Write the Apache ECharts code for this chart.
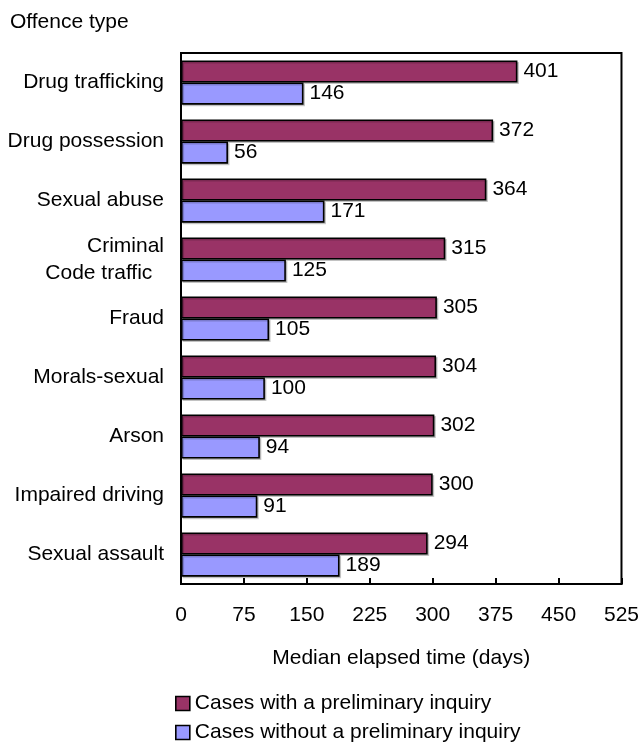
<!DOCTYPE html>
<html>
<head>
<meta charset="utf-8">
<script src="https://cdn.jsdelivr.net/npm/echarts@6/dist/echarts.min.js"></script>
<style>
html,body{margin:0;padding:0;background:#fff;}
#chart{width:642px;height:743px;}
</style>
</head>
<body>
<div id="chart"></div>
<script>
var categories = ["Drug trafficking","Drug possession","Sexual abuse","Criminal\nCode traffic  ","Fraud","Morals-sexual","Arson","Impaired driving","Sexual assault"];
var withInquiry = [401,372,364,315,305,304,302,300,294];
var withoutInquiry = [146,56,171,125,105,100,94,91,189];
var xTicks = {min:0, max:525, interval:75};
var seriesNames = ["Cases with a preliminary inquiry","Cases without a preliminary inquiry"];

var FONT = "Liberation Sans, Arial, sans-serif";
var FS = 21;
var chart = echarts.init(document.getElementById('chart'));
var barStyle = function(color){
  return {color: color, borderColor:'#000', borderWidth:1.6,
    shadowColor:'rgba(0,0,0,0.2)', shadowOffsetX:1.5, shadowOffsetY:1.5, shadowBlur:0};
};
var labelStyle = {show:true, position:'right', distance:6, color:'#000', fontSize:FS, fontFamily:FONT};
var legendBase = function(name, top){
  return {orient:'vertical', left:175, top:top, padding:0, itemWidth:14, itemHeight:14, itemGap:5,
    icon:'rect',
    textStyle:{fontSize:FS, color:'#000', fontFamily:FONT},
    itemStyle:{shadowColor:'transparent', borderWidth:1.6, borderColor:'#000'},
    data:[name]};
};
chart.setOption({
  animation:false,
  backgroundColor:'#fff',
  title:{text:'Offence type', left:10, top:12, padding:0,
    textStyle:{fontSize:FS, fontWeight:'normal', color:'#000', fontFamily:FONT}},
  grid:{left:181, top:53, right:19, bottom:159, show:true, borderColor:'#000', borderWidth:2, containLabel:false},
  legend:[legendBase(seriesNames[0], 693), legendBase(seriesNames[1], 722)],
  xAxis:{type:'value', min:xTicks.min, max:xTicks.max, interval:xTicks.interval,
    name:'Median elapsed time (days)', nameLocation:'middle', nameGap:64,
    nameTextStyle:{fontSize:FS, color:'#000', fontFamily:FONT},
    axisLine:{show:true, lineStyle:{color:'#000', width:2}},
    axisTick:{show:true, inside:true, length:6, lineStyle:{color:'#000', width:2}},
    axisLabel:{margin:21, fontSize:FS, color:'#000', fontFamily:FONT},
    splitLine:{show:false}},
  yAxis:{type:'category', inverse:true, data:categories,
    axisLine:{show:true, lineStyle:{color:'#000', width:2}},
    axisTick:{show:false},
    axisLabel:{margin:17, fontSize:FS, color:'#000', fontFamily:FONT, lineHeight:27}},
  series:[
    {name:seriesNames[0], type:'bar', data:withInquiry, barGap:'0%', barCategoryGap:'25%',
      itemStyle:barStyle('#993366'), label:labelStyle},
    {name:seriesNames[1], type:'bar', data:withoutInquiry, barGap:'0%', barCategoryGap:'25%',
      itemStyle:barStyle('#9999FF'), label:labelStyle}
  ]
});
</script>
</body>
</html>
